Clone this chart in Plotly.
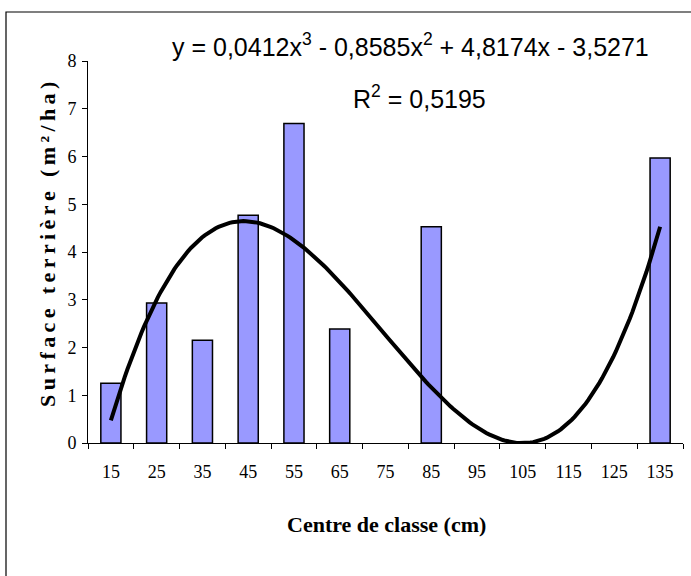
import numpy as np
import plotly.graph_objects as go

categories = ["15", "25", "35", "45", "55", "65", "75", "85", "95", "105", "115", "125", "135"]
surface = [1.25, 2.93, 2.15, 4.77, 6.69, 2.39, 0, 4.53, 0, 0, 0, 0, 5.97]
trend_coefs = [0.0412, -0.8585, 4.8174, -3.5271]
equation_text = "y = 0,0412x<sup>3</sup> - 0,8585x<sup>2</sup> + 4,8174x - 3,5271"
r2_text = "R<sup>2</sup> = 0,5195"
y_title = "Surface terrière (m²/ha)"
x_title = "Centre de classe (cm)"

W, H = 691, 576
L, R, T, B = 88, 8, 61, 133
pw, ph = W - L - R, H - T - B

xi = np.arange(1, len(categories) + 1)
xs = np.linspace(xi[0], xi[-1], 200)
ys = np.polyval(trend_coefs, xs)

spaced_title = "\u2009".join(list(y_title))
bar_line_w = [1.5 if v > 0 else 0 for v in surface]

fig = go.Figure()
fig.add_trace(go.Bar(
    x=categories, y=surface,
    marker=dict(color="#9999FF", line=dict(color="black", width=bar_line_w)),
    showlegend=False, hoverinfo="skip",
))
fig.add_trace(go.Scatter(
    x=xs, y=ys, xaxis="x2", mode="lines",
    line=dict(color="black", width=4), showlegend=False, hoverinfo="skip",
))

serif = "Liberation Serif, Times New Roman, serif"
sans = "Liberation Sans, Arial, sans-serif"

fig.update_layout(
    width=W, height=H,
    margin=dict(l=L, r=R, t=T, b=B, pad=0),
    paper_bgcolor="white", plot_bgcolor="white",
    bargap=0.56,
    xaxis=dict(
        type="category", showline=True, linecolor="black", linewidth=1,
        ticks="outside", ticklen=5, tickcolor="black", tickson="boundaries",
        ticklabelstandoff=12,
        tickfont=dict(family=serif, size=18, color="black"),
        showgrid=False, zeroline=False, range=[-0.5, 12.5],
    ),
    xaxis2=dict(overlaying="x", range=[0.5, 13.5], visible=False),
    yaxis=dict(
        range=[0, 8], dtick=1, showline=True, linecolor="black", linewidth=1,
        ticks="outside", ticklen=5, tickcolor="black", ticklabelstandoff=2,
        tickfont=dict(family=serif, size=18, color="black"),
        showgrid=False, zeroline=False,
    ),
    shapes=[dict(
        type="rect", xref="paper", yref="paper",
        x0=(6 - L) / pw, x1=(W + 20 - L) / pw,
        y0=-(H + 20 - ph - T) / ph, y1=(H - B - 12) / ph,
        line=dict(color="black", width=1.2), fillcolor="rgba(0,0,0,0)", layer="below",
    )],
    annotations=[
        dict(text=equation_text, xref="paper", yref="paper",
             x=(410 - L) / pw, y=(H - B - 45) / ph, xanchor="center", yanchor="middle",
             showarrow=False, font=dict(family=sans, size=25, color="black")),
        dict(text=r2_text, xref="paper", yref="paper",
             x=(419 - L) / pw, y=(H - B - 97) / ph, xanchor="center", yanchor="middle",
             showarrow=False, font=dict(family=sans, size=25, color="black")),
        dict(text="<b>" + spaced_title + "</b>", xref="paper", yref="paper",
             x=(48 - L) / pw, y=(H - B - 245) / ph, xanchor="center", yanchor="middle",
             textangle=-90, showarrow=False, font=dict(family=serif, size=22, color="black")),
        dict(text="<b>" + x_title + "</b>", xref="paper", yref="paper",
             x=(386 - L) / pw, y=(H - B - 524) / ph, xanchor="center", yanchor="middle",
             showarrow=False, font=dict(family=serif, size=22, color="black")),
    ],
)
fig.write_html("out.html")
